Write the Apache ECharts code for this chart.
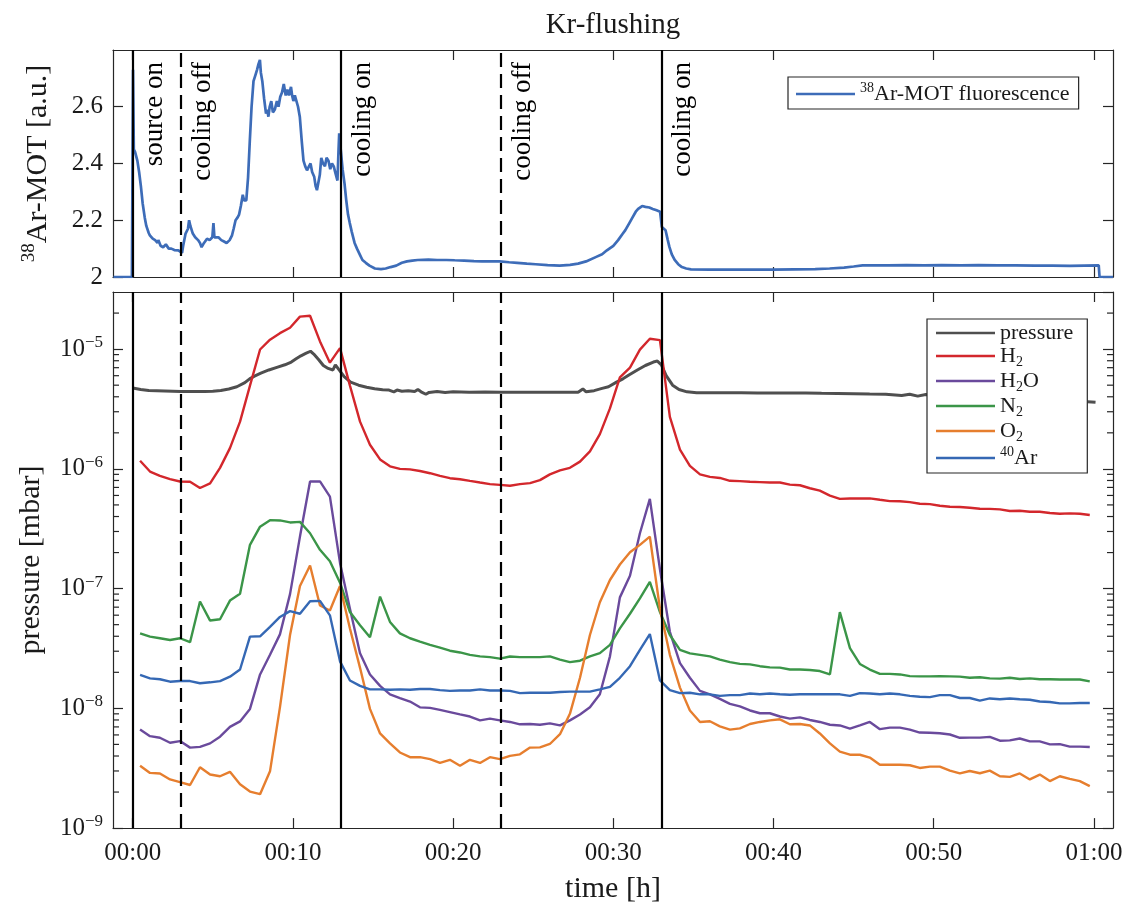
<!DOCTYPE html>
<html>
<head>
<meta charset="utf-8">
<script src="https://cdn.jsdelivr.net/npm/echarts@6/dist/echarts.min.js"></script>
<style>html,body{margin:0;padding:0;background:#fff}#main{width:1132px;height:912px}</style>
</head>
<body>
<div id="main"></div>
<script>
// ---------------- data ----------------
const xTickValues = [0, 10, 20, 30, 40, 50, 60];
const xTickLabels = ['00:00', '00:10', '00:20', '00:30', '00:40', '00:50', '01:00'];
const yTopTickValues = [2, 2.2, 2.4, 2.6];
const yTopTickLabels = ['2', '2.2', '2.4', '2.6'];
const yLogTickValues = [1e-9, 1e-8, 1e-7, 1e-6, 1e-5];
const yLogTickExps = ['−9', '−8', '−7', '−6', '−5'];

const eventTimes = [0, 3, 13, 23, 33];
const eventKinds = ['solid', 'dashed', 'solid', 'dashed', 'solid'];
const eventLabels = ['source on', 'cooling off', 'cooling on', 'cooling off', 'cooling on'];

// 38Ar-MOT fluorescence [time (min), a.u.]
const motTrace = [
 [-1.2,2.0],[-0.05,2.0],[0.0,2.0],[0.02,2.73],[0.07,2.45],[0.15,2.44],[0.29,2.41],[0.40,2.37],[0.51,2.32],[0.62,2.26],
 [0.75,2.21],[0.85,2.18],[1.0,2.155],[1.07,2.147],[1.25,2.135],[1.40,2.13],[1.55,2.12],[1.60,2.13],[1.74,2.11],[1.9,2.105],
 [2.07,2.115],[2.25,2.10],[2.41,2.10],[2.6,2.095],[2.85,2.094],[2.95,2.09],[3.08,2.085],[3.15,2.11],[3.30,2.153],[3.45,2.17],
 [3.52,2.20],[3.6,2.18],[3.75,2.153],[3.9,2.14],[4.08,2.13],[4.2,2.12],[4.30,2.105],[4.45,2.12],[4.64,2.135],[4.8,2.13],
 [4.97,2.14],[5.04,2.19],[5.10,2.14],[5.20,2.135],[5.35,2.14],[5.53,2.13],[5.7,2.125],[5.86,2.12],[6.05,2.13],[6.20,2.147],
 [6.30,2.17],[6.42,2.20],[6.55,2.21],[6.64,2.22],[6.75,2.25],[6.87,2.29],[6.95,2.27],[7.09,2.27],[7.2,2.35],[7.31,2.48],
 [7.42,2.60],[7.54,2.69],[7.65,2.71],[7.76,2.73],[7.85,2.75],[7.94,2.765],[8.0,2.72],[8.09,2.69],[8.2,2.63],[8.32,2.576],
 [8.4,2.59],[8.47,2.565],[8.55,2.60],[8.65,2.62],[8.75,2.58],[8.87,2.59],[9.0,2.62],[9.1,2.60],[9.21,2.635],[9.32,2.65],
 [9.43,2.68],[9.55,2.64],[9.65,2.66],[9.75,2.64],[9.88,2.67],[9.95,2.64],[10.03,2.62],[10.12,2.64],[10.21,2.635],[10.32,2.60],
 [10.43,2.565],[10.55,2.48],[10.66,2.41],[10.77,2.39],[10.88,2.376],[11.0,2.39],[11.10,2.40],[11.2,2.37],[11.33,2.353],[11.42,2.32],
 [11.50,2.306],[11.59,2.30],[11.68,2.36],[11.77,2.42],[11.88,2.40],[12.0,2.39],[12.1,2.42],[12.22,2.41],[12.33,2.38],[12.44,2.40],
 [12.55,2.39],[12.66,2.365],[12.78,2.34],[12.85,2.45],[12.89,2.506],[12.95,2.47],[13.0,2.44],[13.1,2.38],[13.22,2.33],[13.33,2.27],
 [13.44,2.22],[13.55,2.19],[13.67,2.16],[13.85,2.12],[14.0,2.10],[14.17,2.08],[14.34,2.06],[14.55,2.05],[14.78,2.04],[15.12,2.03],
 [15.5,2.028],[15.79,2.03],[16.1,2.035],[16.45,2.04],[16.8,2.05],[17.12,2.055],[17.45,2.058],[17.79,2.06],[18.46,2.061],[19.0,2.06],
 [19.58,2.06],[20.1,2.059],[20.69,2.058],[21.3,2.056],[21.8,2.055],[22.4,2.055],[22.9,2.055],[23.5,2.052],[24.0,2.05],[24.6,2.047],
 [25.15,2.045],[25.9,2.042],[26.65,2.04],[27.3,2.043],[27.8,2.047],[28.3,2.055],[28.9,2.07],[29.3,2.08],[29.6,2.094],[30.0,2.11],
 [30.3,2.13],[30.55,2.15],[30.75,2.165],[31.0,2.19],[31.2,2.21],[31.4,2.23],[31.55,2.24],[31.8,2.25],[32.0,2.247],[32.25,2.245],
 [32.46,2.24],[32.7,2.235],[32.92,2.23],[33.03,2.176],[33.15,2.18],[33.26,2.165],[33.4,2.13],[33.5,2.106],[33.65,2.08],[33.83,2.06],
 [34.05,2.045],[34.28,2.035],[34.55,2.03],[34.85,2.027],[36.0,2.026],[36.9,2.026],[38.5,2.026],[40.0,2.026],[41.3,2.027],[42.6,2.028],
 [43.5,2.03],[44.4,2.033],[45.0,2.037],[45.56,2.041],[46.3,2.041],[47.15,2.041],[48.3,2.042],[49.4,2.041],[50.5,2.042],[51.7,2.041],
 [52.8,2.042],[54.0,2.041],[55.1,2.041],[56.3,2.040],[57.4,2.040],[58.5,2.039],[59.4,2.040],[60.3,2.041],[60.35,2.0],[61.19,2.0]
];

// total pressure [time (min), mbar]
const pressureTrace = [
 [0.0,4.74e-6],[0.5,4.6e-6],[1.0,4.52e-6],[1.5,4.5e-6],[2.0,4.48e-6],[2.5,4.45e-6],[3.0,4.42e-6],[3.5,4.42e-6],[4.0,4.42e-6],[4.5,4.43e-6],
 [5.0,4.45e-6],[5.5,4.52e-6],[6.0,4.65e-6],[6.5,4.85e-6],[7.0,5.25e-6],[7.3,5.65e-6],[7.6,5.95e-6],[8.0,6.3e-6],[8.5,6.7e-6],[9.0,7.05e-6],
 [9.5,7.4e-6],[9.9,7.8e-6],[10.2,8.3e-6],[10.5,8.8e-6],[10.8,9.2e-6],[11.1,9.6e-6],[11.3,9.1e-6],[11.6,8.2e-6],[11.9,7.3e-6],[12.2,6.9e-6],
 [12.5,6.7e-6],[12.65,7.4e-6],[12.85,6.8e-6],[13.2,5.9e-6],[13.6,5.3e-6],[14.1,5.0e-6],[14.6,4.8e-6],[15.1,4.66e-6],[15.6,4.58e-6],[16.0,4.55e-6],
 [16.3,4.4e-6],[16.5,4.55e-6],[16.8,4.45e-6],[17.2,4.5e-6],[17.6,4.42e-6],[17.8,4.6e-6],[18.0,4.4e-6],[18.3,4.2e-6],[18.5,4.35e-6],[19.0,4.42e-6],
 [19.5,4.35e-6],[20,4.4e-6],[21,4.36e-6],[22,4.38e-6],[23,4.36e-6],[24,4.36e-6],[25,4.37e-6],[26,4.36e-6],[27,4.37e-6],[27.8,4.36e-6],
 [28.1,4.65e-6],[28.3,4.4e-6],[28.8,4.5e-6],[29.3,4.7e-6],[29.7,4.85e-6],[30.2,5.3e-6],[30.6,5.65e-6],[31.0,6.1e-6],[31.5,6.7e-6],[32.0,7.3e-6],
 [32.5,7.8e-6],[32.75,7.95e-6],[33.0,7.4e-6],[33.3,6.0e-6],[33.7,5.0e-6],[34.1,4.6e-6],[34.6,4.4e-6],[35.2,4.33e-6],[36,4.32e-6],[37,4.33e-6],
 [38,4.32e-6],[39,4.31e-6],[40,4.3e-6],[41,4.3e-6],[42,4.3e-6],[43,4.28e-6],[44,4.27e-6],[45,4.25e-6],[46,4.22e-6],[47,4.2e-6],
 [48,4.1e-6],[48.5,4.2e-6],[49,4.05e-6],[49.5,4.18e-6],[50,4.1e-6],[51,4.12e-6],[52,4.08e-6],[53,4.1e-6],[54,4.05e-6],[55,4.07e-6],
 [56,4.02e-6],[57,4.05e-6],[58,4.0e-6],[59,4.02e-6],[59.3,3.95e-6],[59.45,null],[59.6,3.64e-6],[60.1,3.6e-6]
];

// residual gas analyser sample times (min)
const rgaTime = [
 0.46,1.08,1.70,2.33,2.95,3.58,4.20,4.83,5.45,6.07,
 6.70,7.32,7.95,8.57,9.19,9.82,10.44,11.07,11.69,12.31,
 12.94,13.56,14.19,14.81,15.44,16.06,16.68,17.31,17.93,18.56,
 19.18,19.80,20.43,21.05,21.68,22.30,22.92,23.55,24.17,24.80,
 25.42,26.04,26.67,27.29,27.92,28.54,29.16,29.79,30.41,31.04,
 31.66,32.28,32.91,33.53,34.16,34.78,35.41,36.03,36.65,37.28,
 37.90,38.53,39.15,39.77,40.40,41.02,41.65,42.27,42.89,43.52,
 44.14,44.77,45.39,46.01,46.64,47.26,47.89,48.51,49.13,49.76,
 50.38,51.01,51.63,52.25,52.88,53.50,54.13,54.75,55.37,56.00,
 56.62,57.25,57.87,58.49,59.12,59.74
];
const h2 = [
 1.17e-6,9.5e-7,8.73e-7,8.2e-7,7.85e-7,7.8e-7,6.92e-7,7.56e-7,1.02e-6,1.49e-6,
 2.48e-6,4.96e-6,9.93e-6,1.2e-5,1.36e-5,1.51e-5,1.87e-5,1.9e-5,1.16e-5,7.71e-6,
 1.02e-5,4.96e-6,2.48e-6,1.59e-6,1.2e-6,1.05e-6,1.0e-6,9.9e-7,9.6e-7,9.2e-7,
 8.73e-7,8.36e-7,8.2e-7,7.94e-7,7.69e-7,7.46e-7,7.35e-7,7.23e-7,7.46e-7,7.6e-7,
 8.05e-7,9.0e-7,9.7e-7,1.02e-6,1.15e-6,1.4e-6,1.95e-6,3.2e-6,5.8e-6,7.0e-6,
 9.9e-6,1.22e-5,1.19e-5,2.72e-6,1.45e-6,1.06e-6,9.0e-7,8.57e-7,8.4e-7,7.95e-7,
 7.9e-7,7.8e-7,7.75e-7,7.7e-7,7.7e-7,7.38e-7,7.3e-7,6.89e-7,6.58e-7,5.98e-7,
 5.62e-7,5.65e-7,5.65e-7,5.67e-7,5.52e-7,5.38e-7,5.36e-7,5.28e-7,5.11e-7,5.08e-7,
 4.92e-7,4.83e-7,4.8e-7,4.74e-7,4.65e-7,4.63e-7,4.59e-7,4.45e-7,4.47e-7,4.39e-7,
 4.39e-7,4.28e-7,4.22e-7,4.25e-7,4.22e-7,4.12e-7
];
const h2o = [
 6.65e-9,5.86e-9,5.68e-9,5.16e-9,5.33e-9,4.7e-9,4.77e-9,5.1e-9,5.8e-9,7.0e-9,
 7.78e-9,9.9e-9,1.92e-8,2.8e-8,4.15e-8,9.0e-8,2.72e-7,7.85e-7,7.85e-7,5.87e-7,
 1.64e-7,6.79e-8,2.89e-8,1.92e-8,1.54e-8,1.31e-8,1.22e-8,1.14e-8,1.02e-8,1.01e-8,
 9.7e-9,9.3e-9,8.9e-9,8.55e-9,7.94e-9,8.2e-9,7.94e-9,7.7e-9,7.36e-9,7.4e-9,
 7.3e-9,7.5e-9,7.2e-9,7.94e-9,8.9e-9,1.02e-8,1.31e-8,2.72e-8,8.45e-8,1.28e-7,
 2.9e-7,5.62e-7,1.45e-7,4.36e-8,2.39e-8,1.8e-8,1.4e-8,1.31e-8,1.2e-8,1.09e-8,
 1.04e-8,9.6e-9,9.1e-9,9.1e-9,8.55e-9,8.2e-9,8.4e-9,8.0e-9,7.7e-9,7.3e-9,
 7.2e-9,6.78e-9,7.2e-9,7.7e-9,6.7e-9,6.9e-9,6.9e-9,6.65e-9,6.28e-9,6.25e-9,
 6.2e-9,6.05e-9,5.68e-9,5.7e-9,5.7e-9,5.78e-9,5.37e-9,5.4e-9,5.6e-9,5.3e-9,
 5.3e-9,5.0e-9,5.02e-9,4.79e-9,4.79e-9,4.75e-9
];
const n2 = [
 4.23e-8,3.97e-8,3.85e-8,3.72e-8,3.85e-8,3.57e-8,7.8e-8,5.41e-8,5.55e-8,7.94e-8,
 9.07e-8,2.32e-7,3.29e-7,3.73e-7,3.71e-7,3.57e-7,3.61e-7,2.9e-7,2.11e-7,1.69e-7,
 1.12e-7,6.37e-8,4.95e-8,3.92e-8,8.57e-8,5.27e-8,4.23e-8,3.85e-8,3.61e-8,3.39e-8,
 3.22e-8,3.03e-8,2.93e-8,2.8e-8,2.72e-8,2.68e-8,2.6e-8,2.71e-8,2.68e-8,2.68e-8,
 2.68e-8,2.72e-8,2.55e-8,2.43e-8,2.5e-8,2.72e-8,2.89e-8,3.39e-8,4.65e-8,6.17e-8,
 8.3e-8,1.14e-7,6.37e-8,4.1e-8,3.08e-8,2.88e-8,2.8e-8,2.72e-8,2.55e-8,2.43e-8,
 2.35e-8,2.33e-8,2.25e-8,2.2e-8,2.19e-8,2.11e-8,2.11e-8,2.09e-8,2.05e-8,1.92e-8,
 6.37e-8,3.18e-8,2.35e-8,2.11e-8,1.94e-8,1.94e-8,1.92e-8,1.86e-8,1.85e-8,1.85e-8,
 1.86e-8,1.85e-8,1.84e-8,1.8e-8,1.82e-8,1.78e-8,1.77e-8,1.8e-8,1.76e-8,1.78e-8,
 1.75e-8,1.75e-8,1.74e-8,1.74e-8,1.74e-8,1.68e-8
];
const o2 = [
 3.32e-9,2.89e-9,2.86e-9,2.55e-9,2.42e-9,2.29e-9,3.22e-9,2.8e-9,2.71e-9,2.95e-9,
 2.32e-9,2.02e-9,1.92e-9,2.98e-9,1.02e-8,4.1e-8,1.05e-7,1.56e-7,7.23e-8,6.57e-8,
 1.05e-7,4.65e-8,2.18e-8,9.9e-9,6.17e-9,5.1e-9,4.28e-9,3.91e-9,3.91e-9,3.77e-9,
 3.5e-9,3.72e-9,3.32e-9,3.72e-9,3.5e-9,3.91e-9,3.77e-9,4.01e-9,4.13e-9,4.7e-9,
 4.72e-9,5.04e-9,6.08e-9,9.0e-9,1.8e-8,4.1e-8,7.69e-8,1.18e-7,1.59e-7,2.01e-7,
 2.32e-7,2.72e-7,6.79e-8,2.8e-8,1.49e-8,9.6e-9,7.7e-9,7.8e-9,7.08e-9,6.65e-9,
 6.8e-9,7.4e-9,7.7e-9,7.94e-9,8.1e-9,7.36e-9,7.4e-9,7.2e-9,6.17e-9,5.1e-9,
 4.35e-9,4.1e-9,4.1e-9,3.88e-9,3.38e-9,3.38e-9,3.38e-9,3.35e-9,3.18e-9,3.26e-9,
 3.26e-9,3.02e-9,2.86e-9,3.0e-9,2.87e-9,3.02e-9,2.71e-9,2.68e-9,2.86e-9,2.55e-9,
 2.8e-9,2.47e-9,2.71e-9,2.58e-9,2.47e-9,2.24e-9
];
const ar40 = [
 1.90e-8,1.78e-8,1.75e-8,1.67e-8,1.69e-8,1.69e-8,1.62e-8,1.65e-8,1.69e-8,1.84e-8,
 2.11e-8,3.97e-8,4.0e-8,4.8e-8,5.8e-8,6.49e-8,6.17e-8,7.85e-8,7.9e-8,5.98e-8,
 2.47e-8,1.71e-8,1.54e-8,1.44e-8,1.44e-8,1.43e-8,1.44e-8,1.43e-8,1.45e-8,1.45e-8,
 1.42e-8,1.40e-8,1.41e-8,1.41e-8,1.44e-8,1.41e-8,1.41e-8,1.4e-8,1.34e-8,1.35e-8,
 1.35e-8,1.35e-8,1.37e-8,1.38e-8,1.38e-8,1.38e-8,1.44e-8,1.51e-8,1.8e-8,2.25e-8,
 3.08e-8,4.17e-8,1.71e-8,1.42e-8,1.34e-8,1.35e-8,1.31e-8,1.31e-8,1.27e-8,1.29e-8,
 1.29e-8,1.33e-8,1.31e-8,1.33e-8,1.31e-8,1.3e-8,1.31e-8,1.31e-8,1.31e-8,1.31e-8,
 1.31e-8,1.27e-8,1.34e-8,1.33e-8,1.31e-8,1.33e-8,1.31e-8,1.27e-8,1.25e-8,1.24e-8,
 1.29e-8,1.29e-8,1.22e-8,1.22e-8,1.16e-8,1.21e-8,1.19e-8,1.21e-8,1.19e-8,1.18e-8,
 1.14e-8,1.13e-8,1.1e-8,1.1e-8,1.11e-8,1.11e-8
];

// ---------------- chart ----------------
const FONT = '"Liberation Serif", "DejaVu Serif", serif';
const INK = '#1a1a1a';
const X_MIN = -1.23, X_MAX = 61.19;
const Y_TOP_MIN = 2, Y_TOP_MAX = 2.8;
const Y_LOG_MIN = 1e-9, Y_LOG_MAX = 3e-5;

const zip = (t, v) => t.map((x, i) => [x, v[i]]);

const frameLine = {show: true, onZero: false, lineStyle: {color: '#262626', width: 1.2}};
const tickStyle = {color: '#262626', width: 1.2};

function xAxisDef(grid, pos, labels) {
  return {
    type: 'value', gridIndex: grid, position: pos, min: X_MIN, max: X_MAX,
    axisLine: frameLine,
    axisTick: {show: true, inside: true, length: 10, lineStyle: tickStyle, customValues: xTickValues},
    axisLabel: {show: labels, customValues: xTickValues, margin: 13, fontSize: 25, fontFamily: FONT, color: INK,
      formatter: v => { const i = xTickValues.findIndex(t => Math.abs(t - v) < 1e-6); return i < 0 ? '' : xTickLabels[i]; }},
    splitLine: {show: false}
  };
}
function yTopDef(pos, labels) {
  return {
    type: 'value', gridIndex: 0, position: pos, min: Y_TOP_MIN, max: Y_TOP_MAX, interval: 0.2,
    axisLine: frameLine,
    axisTick: {show: true, inside: true, length: 10, lineStyle: tickStyle, customValues: yTopTickValues},
    axisLabel: {show: labels, customValues: yTopTickValues, margin: 10, fontSize: 25, fontFamily: FONT, color: INK,
      formatter: v => { const i = yTopTickValues.findIndex(t => Math.abs(t - v) < 1e-6); return i < 0 ? '' : yTopTickLabels[i]; }},
    splitLine: {show: false}
  };
}
function yLogDef(pos, labels) {
  return {
    type: 'log', logBase: 10, gridIndex: 1, position: pos, min: Y_LOG_MIN, max: Y_LOG_MAX,
    axisLine: frameLine,
    axisTick: {show: true, inside: true, length: 10, lineStyle: tickStyle},
    axisLabel: {show: labels, margin: 10, showMaxLabel: false,
      formatter: v => {
        const l = Math.log10(v), e = Math.round(l);
        if (Math.abs(l - e) > 0.01) return '';
        const i = yLogTickValues.findIndex(t => Math.abs(Math.log10(t) - e) < 0.01);
        return i < 0 ? '' : '{b|10}{s|' + yLogTickExps[i] + '}';
      },
      rich: {
        b: {fontSize: 25, fontFamily: FONT, color: INK, lineHeight: 30, verticalAlign: 'middle'},
        s: {fontSize: 17, fontFamily: FONT, color: INK, lineHeight: 16, verticalAlign: 'top'}
      }},
    splitLine: {show: false}
  };
}

// minor log ticks (2..9 per decade) built from the decade tick values
const minorTickValues = [];
yLogTickValues.forEach(d => { for (let m = 2; m <= 9; m++) { const v = d * m; if (v < Y_LOG_MAX) minorTickValues.push(v); } });

const gasStyle = (c) => ({color: c, width: 2.4});
const colors = {pressure: '#4f4f4f', H2: '#d3272c', H2O: '#6a4a9c', N2: '#3b9548', O2: '#e67e2e', Ar40: '#3568b4', mot: '#3d6cb8'};

const legendRich = {
  n: {fontSize: 22, fontFamily: FONT, color: INK, lineHeight: 26, verticalAlign: 'middle'},
  sub: {fontSize: 14, fontFamily: FONT, color: INK, lineHeight: 12, verticalAlign: 'bottom'},
  sup: {fontSize: 14, fontFamily: FONT, color: INK, lineHeight: 12, verticalAlign: 'top'}
};
const legendNames = {
  'pressure': '{n|pressure}',
  'H2': '{n|H}{sub|2}',
  'H2O': '{n|H}{sub|2}{n|O}',
  'N2': '{n|N}{sub|2}',
  'O2': '{n|O}{sub|2}',
  '40Ar': '{sup|40}{n|Ar}',
  'mot': '{sup|38}{n|Ar-MOT fluorescence}'
};

const eventMarkLine = {
  silent: true, symbol: ['none', 'none'], label: {show: false},
  lineStyle: {color: '#000', width: 2.2},
  emphasis: {disabled: true},
  data: eventTimes.map((t, i) => ({xAxis: t, lineStyle: {color: '#000', width: 2.2, type: eventKinds[i] === 'dashed' ? [14, 7] : 'solid'}}))
};

const option = {
  animation: false,
  backgroundColor: '#ffffff',
  textStyle: {fontFamily: FONT},
  title: {text: 'Kr-flushing', left: 613, top: 11, textAlign: 'center', padding: 0,
    textStyle: {fontFamily: FONT, fontSize: 29, fontWeight: 'normal', color: INK}},
  grid: [
    {left: 113, width: 1000, top: 50, height: 227},
    {left: 113, width: 1000, top: 292, height: 544}
  ],
  xAxis: [
    xAxisDef(0, 'bottom', false),
    xAxisDef(0, 'top', false),
    Object.assign(xAxisDef(1, 'bottom', true), {name: 'time [h]', nameLocation: 'middle', nameGap: 39,
      nameTextStyle: {fontFamily: FONT, fontSize: 30, color: INK, lineHeight: 36}}),
    xAxisDef(1, 'top', false)
  ],
  yAxis: [
    Object.assign(yTopDef('left', true), {name: '{sup|38}{n|Ar-MOT [a.u.]}', nameLocation: 'middle', nameRotate: 90, nameGap: 57,
      nameTextStyle: {rich: {
        n: {fontFamily: FONT, fontSize: 30, color: INK, lineHeight: 36, verticalAlign: 'middle'},
        sup: {fontFamily: FONT, fontSize: 19, color: INK, lineHeight: 18, verticalAlign: 'top'}}}}),
    yTopDef('right', false),
    Object.assign(yLogDef('left', true), {name: 'pressure [mbar]', nameLocation: 'middle', nameRotate: 90, nameGap: 57,
      nameTextStyle: {fontFamily: FONT, fontSize: 30, color: INK, lineHeight: 36}}),
    yLogDef('right', false)
  ],
  legend: [
    {data: ['mot'], left: 788, top: 77, orient: 'horizontal', icon: 'rect', itemWidth: 59, itemHeight: 2.6,
      padding: [4, 9, 4, 8], borderColor: '#262626', borderWidth: 1.2, backgroundColor: '#fff',
      selectedMode: false, formatter: n => legendNames[n], textStyle: {rich: legendRich}},
    {data: ['pressure', 'H2', 'H2O', 'N2', 'O2', '40Ar'], left: 927, top: 319, orient: 'vertical',
      icon: 'rect', itemWidth: 59, itemHeight: 2.6, itemGap: 1, padding: [3, 14, 4, 9],
      borderColor: '#262626', borderWidth: 1.2, backgroundColor: '#fff',
      selectedMode: false, formatter: n => legendNames[n], textStyle: {rich: legendRich}}
  ],
  series: [
    {type: 'line', name: '_ev0', xAxisIndex: 0, yAxisIndex: 0, data: [], z: 1, markLine: eventMarkLine},
    {type: 'line', name: '_ev1', xAxisIndex: 2, yAxisIndex: 2, data: [], z: 1, markLine: eventMarkLine},
    {type: 'line', name: 'mot', xAxisIndex: 0, yAxisIndex: 0, data: motTrace, showSymbol: false, symbol: 'none',
      lineStyle: {color: colors.mot, width: 2.7}, itemStyle: {color: colors.mot}, z: 3},
    {type: 'line', name: 'pressure', xAxisIndex: 2, yAxisIndex: 2, data: pressureTrace, showSymbol: false, symbol: 'none',
      connectNulls: false, lineStyle: {color: colors.pressure, width: 3}, itemStyle: {color: colors.pressure}, z: 3},
    {type: 'line', name: 'H2', xAxisIndex: 2, yAxisIndex: 2, data: zip(rgaTime, h2), showSymbol: false, symbol: 'none',
      lineStyle: gasStyle(colors.H2), itemStyle: {color: colors.H2}, z: 3},
    {type: 'line', name: 'H2O', xAxisIndex: 2, yAxisIndex: 2, data: zip(rgaTime, h2o), showSymbol: false, symbol: 'none',
      lineStyle: gasStyle(colors.H2O), itemStyle: {color: colors.H2O}, z: 3},
    {type: 'line', name: 'N2', xAxisIndex: 2, yAxisIndex: 2, data: zip(rgaTime, n2), showSymbol: false, symbol: 'none',
      lineStyle: gasStyle(colors.N2), itemStyle: {color: colors.N2}, z: 3},
    {type: 'line', name: 'O2', xAxisIndex: 2, yAxisIndex: 2, data: zip(rgaTime, o2), showSymbol: false, symbol: 'none',
      lineStyle: gasStyle(colors.O2), itemStyle: {color: colors.O2}, z: 3},
    {type: 'line', name: '40Ar', xAxisIndex: 2, yAxisIndex: 2, data: zip(rgaTime, ar40), showSymbol: false, symbol: 'none',
      lineStyle: gasStyle(colors.Ar40), itemStyle: {color: colors.Ar40}, z: 3},
    // event annotations (rotated text) in the upper panel
    {type: 'custom', name: '_ann', xAxisIndex: 0, yAxisIndex: 0, silent: true, clip: false, z: 5,
      data: eventTimes.map(t => [t, Y_TOP_MAX]),
      encode: {x: 0, y: 1},
      renderItem: (params, api) => {
        const p = api.coord([api.value(0), api.value(1)]);
        return {type: 'text', x: p[0] + 22, y: p[1] + 12, rotation: Math.PI / 2,
          style: {text: eventLabels[params.dataIndex], fill: '#000', fontSize: 27, fontFamily: FONT,
            align: 'right', verticalAlign: 'middle'}};
      }},
    // minor log ticks on both sides of the lower panel
    {type: 'custom', name: '_minor', xAxisIndex: 2, yAxisIndex: 2, silent: true, clip: false, z: 6,
      data: minorTickValues.map(v => [X_MIN, v]),
      encode: {x: 0, y: 1},
      renderItem: (params, api) => {
        const v = api.value(1);
        const a = api.coord([X_MIN, v]);
        const b = api.coord([X_MAX, v]);
        return {type: 'group', children: [
          {type: 'line', shape: {x1: a[0], y1: a[1], x2: a[0] + 6, y2: a[1]}, style: {stroke: '#262626', lineWidth: 1.2}},
          {type: 'line', shape: {x1: b[0] - 6, y1: b[1], x2: b[0], y2: b[1]}, style: {stroke: '#262626', lineWidth: 1.2}}
        ]};
      }}
  ]
};

const chart = echarts.init(document.getElementById('main'), null, {renderer: 'canvas', width: 1132, height: 912});
chart.setOption(option);
</script>
</body>
</html>
